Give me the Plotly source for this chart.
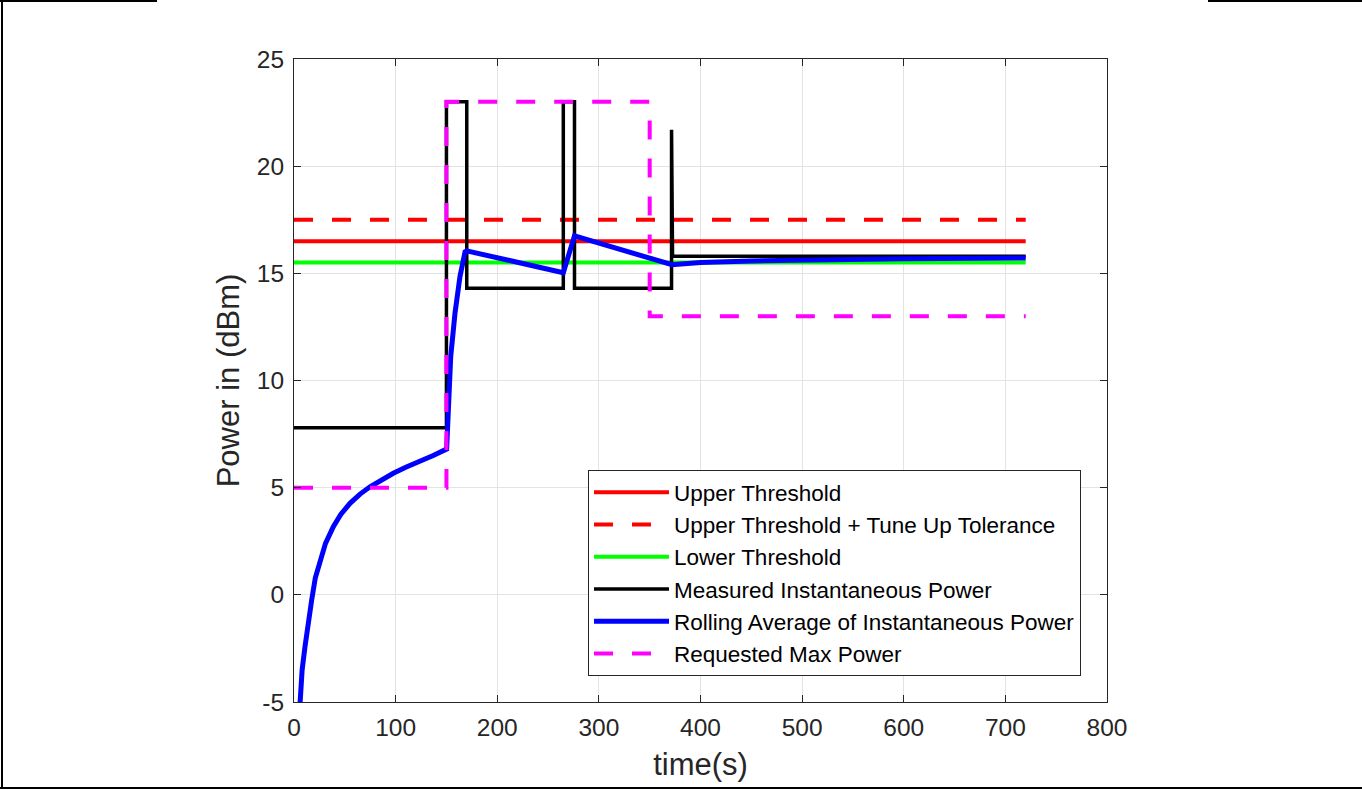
import plotly.graph_objects as go

# ---- data ----
thr_t = [0, 720]
upper_thr = [16.5, 16.5]
upper_tol = [17.5, 17.5]
lower_thr = [15.5, 15.5]

meas_t = [0, 150, 150, 170, 170, 265, 265, 276, 276, 371.5, 371.5, 372.5, 720]
meas_v = [7.8, 7.8, 23.0, 23.0, 14.3, 14.3, 23.0, 23.0, 14.3, 14.3, 21.7, 15.8, 15.8]

avg_t = [5, 6, 8, 10.8, 14, 17.4, 21, 25.6, 31, 38.7, 46, 55.1, 65, 74.8, 86, 97.7,
         110, 124, 137, 150.2, 151.8, 154.2, 158.4, 163.3, 168.3, 170, 265, 276,
         372, 400, 450, 500, 600, 720]
avg_v = [-5.8, -5.0, -3.5, -2.42, -1.2, -0.24, 0.8, 1.62, 2.4, 3.18, 3.75, 4.27, 4.7,
         5.04, 5.38, 5.67, 5.95, 6.21, 6.5, 6.8, 9.24, 11.11, 13.13, 14.84, 16.0,
         16.05, 15.03, 16.75, 15.4, 15.5, 15.58, 15.63, 15.68, 15.72]

req_t = [0, 150, 150, 350, 350, 720]
req_v = [5, 5, 23, 23, 13, 13]

x_ticks = [0, 100, 200, 300, 400, 500, 600, 700, 800]
y_ticks = [-5, 0, 5, 10, 15, 20, 25]

FONT = "Liberation Sans, Arial, Helvetica, sans-serif"
DASH = "19px,19px"

fig = go.Figure()
series = [
    ("Upper Threshold", thr_t, upper_thr, "#ff0000", 4, "solid"),
    ("Upper Threshold + Tune Up Tolerance", thr_t, upper_tol, "#ff0000", 4, DASH),
    ("Lower Threshold", thr_t, lower_thr, "#00ff00", 4, "solid"),
    ("Measured Instantaneous Power", meas_t, meas_v, "#000000", 3.5, "solid"),
    ("Rolling Average of Instantaneous Power", avg_t, avg_v, "#0000ff", 5, "solid"),
    ("Requested Max Power", req_t, req_v, "#ff00ff", 4, DASH),
]
for i, (name, x, y, c, w, d) in enumerate(series):
    fig.add_trace(go.Scatter(x=x, y=y, mode="lines", name=name, legendgroup=f"g{i}",
                             line=dict(color=c, width=w, dash=d)))

# plot area in pixels
L, R, T, B = 294, 1107, 59, 702
W, H = 1362, 790

def px(xp):
    return (xp - L) / (R - L)

def py(yp):
    return (B - yp) / (B - T)

frame = dict(color="#000000", width=2)
shapes = [
    dict(type="line", xref="paper", yref="paper", x0=px(2), x1=px(2), y0=py(0), y1=py(788), line=frame),
    dict(type="line", xref="paper", yref="paper", x0=px(0), x1=px(1362), y0=py(788), y1=py(788), line=frame),
    dict(type="line", xref="paper", yref="paper", x0=px(0), x1=px(157), y0=py(1), y1=py(1), line=frame),
    dict(type="line", xref="paper", yref="paper", x0=px(1208), x1=px(1362), y0=py(1), y1=py(1), line=frame),
]

axis_common = dict(
    showgrid=True, gridcolor="#e3e3e3", gridwidth=1,
    showline=True, linecolor="#262626", linewidth=1, mirror="ticks",
    ticks="inside", ticklen=7, tickcolor="#262626",
    tickfont=dict(family=FONT, size=24.5, color="#262626"),
    ticklabelstandoff=4,
    zeroline=False,
)

fig.update_layout(
    width=W, height=H,
    margin=dict(l=L, r=W - R, t=T, b=H - B, pad=0),
    paper_bgcolor="white", plot_bgcolor="white",
    font=dict(family=FONT, color="#262626"),
    shapes=shapes,
    xaxis=dict(range=[0, 800], tickvals=x_ticks, ticktext=[str(v) for v in x_ticks],
               title=dict(text="time(s)", font=dict(family=FONT, size=31, color="#262626"), standoff=12),
               **axis_common),
    yaxis=dict(range=[-5, 25], tickvals=y_ticks, ticktext=[str(v) for v in y_ticks],
               title=dict(text="Power in (dBm)", font=dict(family=FONT, size=31, color="#262626"), standoff=7),
               **axis_common),
    legend=dict(x=px(1081), y=py(676), xanchor="right", yanchor="bottom",
                bgcolor="white", bordercolor="#262626", borderwidth=1,
                font=dict(family=FONT, size=22.5, color="#000000"),
                itemwidth=75, tracegroupgap=0, traceorder="grouped"),
    showlegend=True,
)

fig.write_html("out.html", config={"displayModeBar": False},
               post_script="document.body.style.margin='0px';")
